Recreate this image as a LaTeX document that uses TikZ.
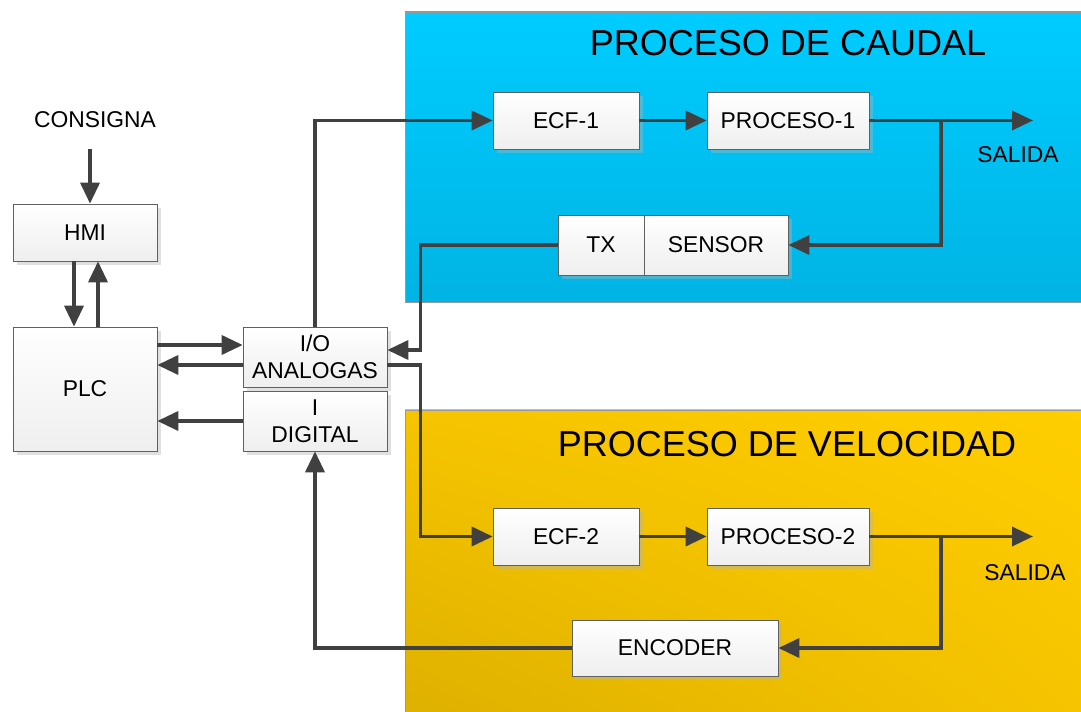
\documentclass[tikz,border=0pt]{standalone}
\usepackage{fontspec}
\setmainfont{Liberation Sans}
\usetikzlibrary{arrows.meta,shadows,shadings,calc}

\definecolor{linea}{RGB}{64,64,64}
\definecolor{cielo1}{RGB}{0,204,255}
\definecolor{cielo2}{RGB}{0,180,228}
\definecolor{oro1}{RGB}{255,206,0}
\definecolor{oro2}{RGB}{222,176,0}
\definecolor{oro3}{RGB}{246,196,0}

\begin{document}
\begin{tikzpicture}[x=0.02cm,y=-0.02cm,
  bloque/.style={draw=gray!75!black, top color=white, bottom color=gray!13,
    drop shadow={shadow xshift=0.08cm, shadow yshift=-0.08cm, opacity=0.4, fill=gray!60},
    minimum height=1.14cm, inner sep=0pt, align=center,
    font=\fontsize{13}{15.5}\selectfont},
  texto/.style={font=\fontsize{13}{15.5}\selectfont},
  titulo/.style={font=\fontsize{20.5}{24}\selectfont},
  conector/.style={linea, line width=2pt},
  flecha/.style={conector, -{Triangle[length=0.42cm,width=0.38cm]}}]
  \useasboundingbox (0,0) rectangle (1081,712);

  % zonas de proceso
  \shade[draw=gray!80, top color=cielo1, bottom color=cielo2] (405,12) rectangle (1090,302);
  \shade[draw=gray!80, upper left=oro3, upper right=oro1, lower left=oro2, lower right=oro3] (405,410) rectangle (1090,720);
  \node[titulo] (tcaudal) at (788,43) {PROCESO DE CAUDAL};
  \node[titulo] (tvelocidad) at (787,444) {PROCESO DE VELOCIDAD};

  % bloques
  \node[texto] (consigna) at (95,120) {CONSIGNA};
  \node[bloque, minimum width=2.88cm] (hmi) at (85,232.5) {HMI};
  \node[bloque, minimum width=2.88cm, minimum height=2.48cm] (plc) at (85,389) {PLC};
  \node[bloque, minimum width=2.88cm, minimum height=1.2cm] (io) at (315,357) {I/O\\ANALOGAS};
  \node[bloque, minimum width=2.88cm, minimum height=1.2cm] (dig) at (315,421) {I\\DIGITAL};
  \node[bloque, minimum width=2.92cm] (ecf1) at (566,120.5) {ECF-1};
  \node[bloque, minimum width=3.24cm] (p1) at (788,120.5) {PROCESO-1};
  \node[bloque, minimum width=1.72cm, minimum height=1.2cm] (tx) at (601,245) {TX};
  \node[bloque, minimum width=2.88cm, minimum height=1.2cm] (sensor) at (716,245) {SENSOR};
  \node[bloque, minimum width=2.92cm] (ecf2) at (566,536.5) {ECF-2};
  \node[bloque, minimum width=3.24cm] (p2) at (788,536.5) {PROCESO-2};
  \node[bloque, minimum width=4.12cm, minimum height=1.12cm] (encoder) at (675,648) {ENCODER};
  \node[texto] (salida1) at (1018,155) {SALIDA};
  \node[texto] (salida2) at (1025,573) {SALIDA};
  \coordinate (s1) at (1033,120.5);
  \coordinate (s2) at (1033,536.5);
  \coordinate (rama1) at (941,120.5);
  \coordinate (rama2) at (941,536.5);

  % conexiones
  \draw[flecha, shorten <=0.3cm] ($(consigna.south)+(-5,0)$) -- ($(consigna.south |- hmi.north)+(-5,0)$);
  \draw[flecha] ($(hmi.south)+(-11,0)$) -- ($(plc.north)+(-11,0)$);
  \draw[flecha] ($(plc.north)+(13,0)$) -- ($(hmi.south)+(13,0)$);
  \draw[flecha] (plc.east |- 0,345) -- (io.west |- 0,345);
  \draw[flecha] (io.west |- 0,365) -- (plc.east |- 0,365);
  \draw[flecha] (dig.west) -- (plc.east |- dig.west);
  \draw[flecha] (io.north) |- (ecf1.west);
  \draw[flecha] (ecf1) -- (p1);
  \draw[flecha] (p1) -- (s1);
  \draw[flecha] (rama1) |- (sensor.east);
  \draw[flecha] (tx.west) -| ($(io.east)+(33,-7)$) -- ($(io.east)+(0,-7)$);
  \draw[flecha] ($(io.east)+(0,8)$) -- ++(33,0) |- (ecf2.west);
  \draw[flecha] (ecf2) -- (p2);
  \draw[flecha] (p2) -- (s2);
  \draw[flecha] (rama2) |- (encoder.east);
  \draw[flecha] (encoder.west) -| (dig.south);
\end{tikzpicture}
\end{document}
